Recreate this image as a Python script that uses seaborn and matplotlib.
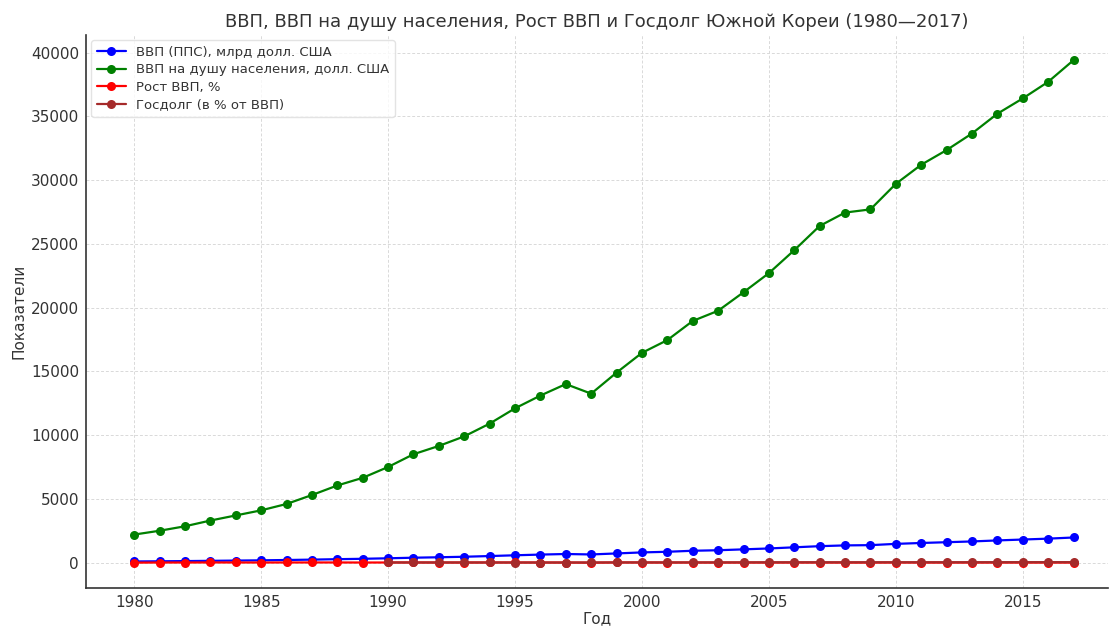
import matplotlib
matplotlib.use("Agg")
import matplotlib.pyplot as plt
import seaborn as sns
import numpy as np
import pandas as pd

years = list(range(1980, 2018))

gdp_ppp = [90, 105, 120, 140, 160, 180, 205, 235, 270, 300,
           340, 385, 420, 460, 515, 575, 630, 675, 640, 720,
           800, 850, 930, 970, 1040, 1110, 1200, 1290, 1350, 1370,
           1470, 1540, 1600, 1660, 1740, 1810, 1880, 1970]

gdp_per_capita = [2200, 2500, 2850, 3300, 3700, 4100, 4600, 5300, 6050, 6650,
                  7500, 8500, 9150, 9900, 10900, 12100, 13100, 14000, 13250, 14900,
                  16450, 17450, 18950, 19750, 21200, 22700, 24500, 26400, 27450, 27700,
                  29700, 31200, 32350, 33650, 35200, 36400, 37700, 39400]

gdp_growth = [-1.6, 7.2, 8.3, 13.4, 10.6, 7.8, 11.3, 12.7, 12.0, 7.1,
              9.9, 10.8, 6.2, 6.9, 9.3, 9.6, 7.9, 6.2, -5.5, 11.3,
              8.9, 4.5, 7.4, 2.9, 4.9, 3.9, 5.2, 5.5, 2.8, 0.7,
              6.5, 3.7, 2.4, 3.2, 3.2, 2.8, 2.9, 3.1]

# госдолг есть только с 1990 года
gov_debt = [np.nan] * 10 + [13, 12.5, 12.5, 12, 11, 9, 8, 9, 13, 15,
                            17, 17, 17.5, 20, 22, 26, 28.5, 28, 27, 30,
                            30, 30.5, 31, 33, 35, 37, 38, 38]

series = [
    ("ВВП (ППС), млрд долл. США", gdp_ppp, "blue"),
    ("ВВП на душу населения, долл. США", gdp_per_capita, "green"),
    ("Рост ВВП, %", gdp_growth, "red"),
    ("Госдолг (в % от ВВП)", gov_debt, "brown"),
]

sns.set_style("white")
plt.rcParams["font.family"] = ["DejaVu Sans"]
text_color = "#333333"
plt.rcParams.update({
    "text.color": text_color,
    "axes.labelcolor": text_color,
    "xtick.color": text_color,
    "ytick.color": text_color,
    "axes.edgecolor": text_color,
})

fig = plt.figure(figsize=(11.1, 6.26), dpi=100)
ax = fig.add_axes([0.0775, 0.061, 0.9205, 0.883])

for label, values, color in series:
    df = pd.DataFrame({"year": years, "value": values}).dropna()
    sns.lineplot(data=df, x="year", y="value", ax=ax, color=color, marker="o",
                 markersize=6.5, markeredgewidth=0, linewidth=1.6, label=label)

ax.set_xlim(1978.1, 2018.35)
ax.set_title("ВВП, ВВП на душу населения, Рост ВВП и Госдолг Южной Кореи (1980—2017)",
             fontsize=13, pad=6)
ax.set_xlabel("Год", fontsize=11, labelpad=1)
ax.set_ylabel("Показатели", fontsize=11, labelpad=3)
ax.tick_params(axis="both", labelsize=11, length=3, pad=2, direction="out")

ax.grid(True, linestyle=(0, (3, 2)), color="#d9d9d9", linewidth=0.7)
for side in ["top", "right"]:
    ax.spines[side].set_visible(False)
for side in ["left", "bottom"]:
    ax.spines[side].set_linewidth(1.2)

leg = ax.legend(loc="upper left", fontsize=9.5, frameon=True, borderaxespad=0.4,
                handlelength=2.2, labelspacing=0.35)
leg.get_frame().set_edgecolor("#dddddd")

fig.savefig("out.png", dpi=100)
